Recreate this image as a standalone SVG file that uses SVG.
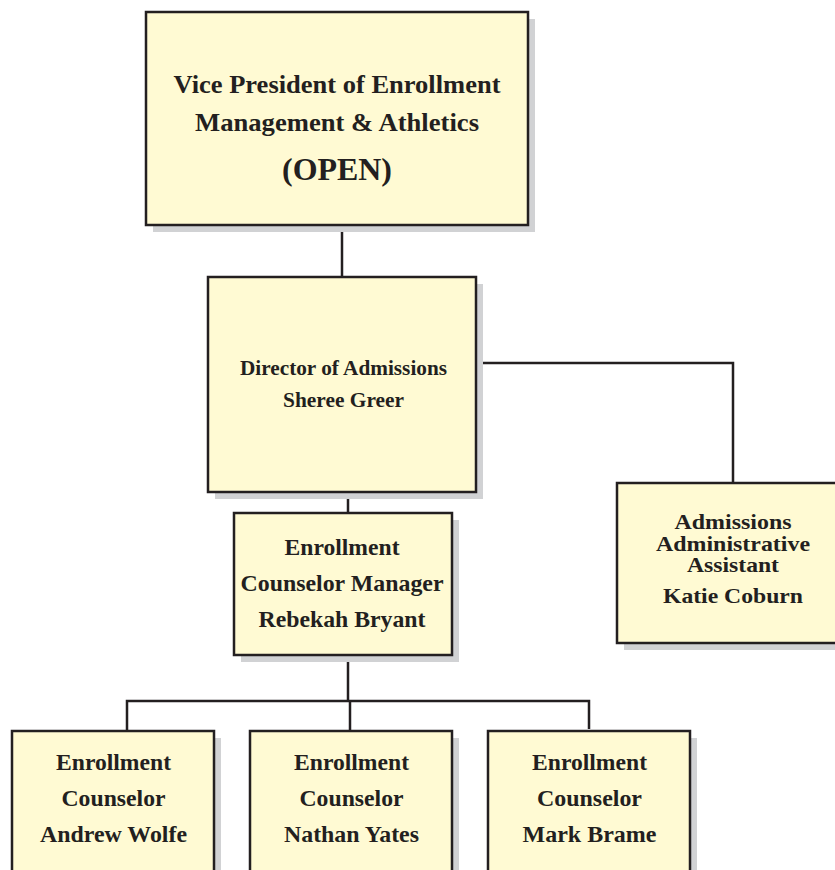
<svg xmlns="http://www.w3.org/2000/svg" width="835" height="870" viewBox="0 0 835 870">
<style>
.box{fill:#fffad3;stroke:#231f20;stroke-width:2.5}
.sh{fill:#d1d2d4}
.t{font-family:"Liberation Serif","Times New Roman",Times,serif;font-weight:700;fill:#231f20;text-anchor:middle}
.c{fill:none;stroke:#231f20;stroke-width:2.5}
</style>
<rect width="835" height="870" fill="#ffffff"/>
<g id="connectors">
<path class="c" d="M342,225V277"/>
<path class="c" d="M476,363H733V483"/>
<path class="c" d="M348,492V513"/>
<path class="c" d="M348,655V701"/>
<path class="c" d="M127,731V701H589V729"/>
<path class="c" d="M350,701V731"/>
</g>
<g id="vp">
<rect class="sh" x="153" y="19" width="382" height="213"/>
<rect class="box" x="146" y="12" width="382" height="213"/>
<text class="t" x="337" y="93" font-size="25.5" textLength="327" lengthAdjust="spacingAndGlyphs">Vice President of Enrollment</text>
<text class="t" x="337" y="131" font-size="25.5" textLength="284" lengthAdjust="spacingAndGlyphs">Management &amp; Athletics</text>
<text class="t" x="337" y="180" font-size="32" textLength="110" lengthAdjust="spacingAndGlyphs">(OPEN)</text>
</g>
<g id="director">
<rect class="sh" x="215" y="284" width="268" height="215"/>
<rect class="box" x="208" y="277" width="268" height="215"/>
<text class="t" x="343.5" y="375" font-size="21" textLength="207" lengthAdjust="spacingAndGlyphs">Director of Admissions</text>
<text class="t" x="343.5" y="407" font-size="21" textLength="121" lengthAdjust="spacingAndGlyphs">Sheree Greer</text>
</g>
<g id="manager">
<rect class="sh" x="241" y="520" width="218" height="142"/>
<rect class="box" x="234" y="513" width="218" height="142"/>
<text class="t" x="342" y="555" font-size="24" textLength="115" lengthAdjust="spacingAndGlyphs">Enrollment</text>
<text class="t" x="342" y="591" font-size="24" textLength="203" lengthAdjust="spacingAndGlyphs">Counselor Manager</text>
<text class="t" x="342" y="627" font-size="24" textLength="167" lengthAdjust="spacingAndGlyphs">Rebekah Bryant</text>
</g>
<g id="admin">
<rect class="sh" x="624" y="490" width="230" height="160"/>
<rect class="box" x="617" y="483" width="230" height="160"/>
<text class="t" x="733" y="529" font-size="21.5" textLength="117" lengthAdjust="spacingAndGlyphs">Admissions</text>
<text class="t" x="733" y="550.5" font-size="21.5" textLength="154" lengthAdjust="spacingAndGlyphs">Administrative</text>
<text class="t" x="733" y="572" font-size="21.5" textLength="92" lengthAdjust="spacingAndGlyphs">Assistant</text>
<text class="t" x="733" y="603" font-size="21.5" textLength="140" lengthAdjust="spacingAndGlyphs">Katie Coburn</text>
</g>
<g id="counselor1">
<rect class="sh" x="19" y="738" width="202" height="150"/>
<rect class="box" x="12" y="731" width="202" height="150"/>
<text class="t" x="113.5" y="770" font-size="23.5" textLength="115" lengthAdjust="spacingAndGlyphs">Enrollment</text>
<text class="t" x="113.5" y="806" font-size="23.5" textLength="104" lengthAdjust="spacingAndGlyphs">Counselor</text>
<text class="t" x="113.5" y="842" font-size="23.5" textLength="147" lengthAdjust="spacingAndGlyphs">Andrew Wolfe</text>
</g>
<g id="counselor2">
<rect class="sh" x="257" y="738" width="202" height="150"/>
<rect class="box" x="250" y="731" width="202" height="150"/>
<text class="t" x="351.5" y="770" font-size="23.5" textLength="115" lengthAdjust="spacingAndGlyphs">Enrollment</text>
<text class="t" x="351.5" y="806" font-size="23.5" textLength="104" lengthAdjust="spacingAndGlyphs">Counselor</text>
<text class="t" x="351.5" y="842" font-size="23.5" textLength="135" lengthAdjust="spacingAndGlyphs">Nathan Yates</text>
</g>
<g id="counselor3">
<rect class="sh" x="495" y="738" width="202" height="150"/>
<rect class="box" x="488" y="731" width="202" height="150"/>
<text class="t" x="589.5" y="770" font-size="23.5" textLength="115" lengthAdjust="spacingAndGlyphs">Enrollment</text>
<text class="t" x="589.5" y="806" font-size="23.5" textLength="105" lengthAdjust="spacingAndGlyphs">Counselor</text>
<text class="t" x="589.5" y="842" font-size="23.5" textLength="134" lengthAdjust="spacingAndGlyphs">Mark Brame</text>
</g>
</svg>
